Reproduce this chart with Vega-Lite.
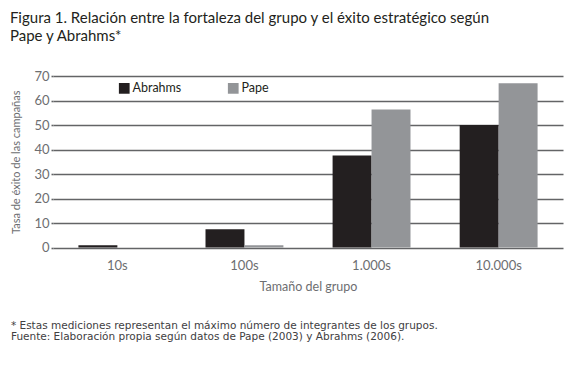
{
  "$schema": "https://vega.github.io/schema/vega-lite/v6.json",
  "padding": {"left": 9, "top": 10, "right": 10, "bottom": 10},
  "background": "white",
  "config": {"view": {"stroke": null}, "font": "Lato"},
  "title": {
    "text": ["Figura 1. Relación entre la fortaleza del grupo y el éxito estratégico según", "Pape y Abrahms*"],
    "anchor": "start",
    "frame": "bounds",
    "font": "Lato",
    "fontSize": 15,
    "fontWeight": "normal",
    "color": "#231f20",
    "lineHeight": 18.5,
    "dx": -1,
    "dy": 6,
    "offset": 32
  },
  "vconcat": [
    {
      "width": 510,
      "height": 171.6,
      "data": {
        "values": [
          {"grupo": "10s", "autor": "Abrahms", "tasa": 1},
          {"grupo": "10s", "autor": "Pape", "tasa": 0},
          {"grupo": "100s", "autor": "Abrahms", "tasa": 7.5},
          {"grupo": "100s", "autor": "Pape", "tasa": 1},
          {"grupo": "1.000s", "autor": "Abrahms", "tasa": 37.6},
          {"grupo": "1.000s", "autor": "Pape", "tasa": 56.3},
          {"grupo": "10.000s", "autor": "Abrahms", "tasa": 50},
          {"grupo": "10.000s", "autor": "Pape", "tasa": 67}
        ]
      },
      "title": {
        "text": ["* Estas mediciones representan el máximo número de integrantes de los grupos.", "Fuente: Elaboración propia según datos de Pape (2003) y Abrahms (2006)."],
        "orient": "bottom",
        "anchor": "start",
        "frame": "bounds",
        "font": "DejaVu Sans",
        "fontSize": 10.5,
        "fontWeight": "normal",
        "color": "#414042",
        "lineHeight": 10.5,
        "dx": 0,
        "offset": 28
      },
      "mark": {"type": "bar"},
      "encoding": {
        "x": {
          "field": "grupo",
          "type": "nominal",
          "sort": ["10s", "100s", "1.000s", "10.000s"],
          "scale": {"paddingInner": 0.387, "paddingOuter": 0.2},
          "title": "Tamaño del grupo",
          "axis": {
            "domain": false,
            "ticks": false,
            "labelAngle": 0,
            "labelFontSize": 13,
            "labelColor": "#6d6e71",
            "labelPadding": 12,
            "titleFontSize": 12.5,
            "titleFontWeight": "normal",
            "titleColor": "#6d6e71",
            "titlePadding": 8
          }
        },
        "xOffset": {"field": "autor", "sort": ["Abrahms", "Pape"]},
        "y": {
          "field": "tasa",
          "type": "quantitative",
          "scale": {"domain": [0, 70], "nice": false},
          "title": "Tasa de éxito de las campañas",
          "axis": {
            "values": [0, 10, 20, 30, 40, 50, 60, 70],
            "domain": false,
            "tickSize": 2,
            "tickColor": "#636466",
            "tickWidth": 1.6,
            "gridColor": "#636466",
            "gridWidth": 1.6,
            "labelFontSize": 13,
            "labelColor": "#6d6e71",
            "labelPadding": 2,
            "titleFontSize": 11,
            "titleFontWeight": "normal",
            "titleColor": "#6d6e71",
            "titlePadding": 12
          }
        },
        "color": {
          "field": "autor",
          "type": "nominal",
          "scale": {"domain": ["Abrahms", "Pape"], "range": ["#231f20", "#939598"]},
          "legend": {
            "orient": "none",
            "legendX": 65,
            "legendY": 6,
            "direction": "horizontal",
            "title": null,
            "symbolType": "square",
            "symbolSize": 115,
            "symbolStrokeWidth": 0,
            "symbolOpacity": 1,
            "labelFontSize": 12.5,
            "labelColor": "#231f20",
            "labelOffset": 2,
            "columnPadding": 45
          }
        }
      }
    }
  ]
}
